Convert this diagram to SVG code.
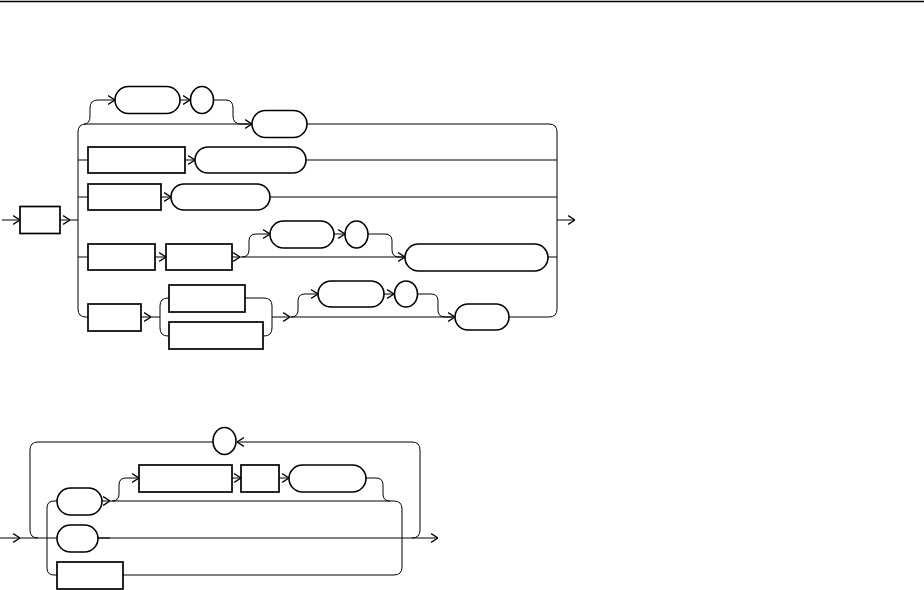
<svg xmlns="http://www.w3.org/2000/svg" width="924" height="590" viewBox="0 0 924 590">
<style>
.c{fill:none;stroke:#000;stroke-width:1}
.a{fill:none;stroke:#000;stroke-width:1;marker-end:url(#ah)}
.b{fill:#fff;stroke:#000;stroke-width:1.7}
.p{fill:#fff;stroke:#000;stroke-width:1.6}
</style>
<defs>
<marker id="ah" markerUnits="userSpaceOnUse" markerWidth="8" markerHeight="10" viewBox="0 0 6 8" refX="6" refY="4" orient="auto">
<path d="M0.5,0.5 L6,4 L0.5,7.5" fill="none" stroke="#000" stroke-width="1"/>
</marker>
</defs>
<line x1="0" y1="1.5" x2="924" y2="1.5" stroke="#000" stroke-width="1.3"/>
<g id="connectors">
<path class="a" d="M2,220 L20,220"/>
<path class="a" d="M60,220 L70,220"/>
<path class="c" d="M70,220 L78,220"/>
<path class="a" d="M78,220 L78,132 Q78,124 86,124 L252,124"/>
<path class="c" d="M78,220 L78,309 Q78,317 86,317 L88,317"/>
<path class="c" d="M78,160 L88,160 M78,197 L88,197 M78,257 L88,257"/>
<path class="a" d="M84,124 Q90,124 90,116 L90,108 Q90,100 98,100 L115,100"/>
<path class="a" d="M180,100 L190,100"/>
<path class="c" d="M214,100 L226,100 Q233,100 233,108 L233,116 Q233,124 241,124 L250,124"/>
<path class="c" d="M307,124 L549,124 Q557,124 557,132 L557,309 Q557,317 549,317 L509,317"/>
<path class="a" d="M185,160 L195,160"/>
<path class="c" d="M306,160 L557,160"/>
<path class="a" d="M161,197 L171,197"/>
<path class="c" d="M270,197 L557,197"/>
<path class="a" d="M557,220 L575,220"/>
<path class="a" d="M155,257 L166,257"/>
<path class="a" d="M232,257 L240,257"/>
<path class="a" d="M240,257 L405,257"/>
<path class="a" d="M242,257 Q249,257 249,250 L249,241 Q249,234 256,234 L270,234"/>
<path class="a" d="M334,234 L345,234"/>
<path class="c" d="M368,234 L385,234 Q392,234 392,241 L392,250 Q392,257 399,257 L404,257"/>
<path class="c" d="M548,257 L557,257"/>
<path class="a" d="M141,317 L151,317"/>
<path class="c" d="M151,317 L160,317"/>
<path class="c" d="M169,298 L168,298 Q160,298 160,306 L160,328 Q160,336 168,336 L169,336"/>
<path class="c" d="M245,298 L264,298 Q272,298 272,306 L272,328 Q272,336 264,336 L263,336"/>
<path class="a" d="M272,317 L290,317"/>
<path class="a" d="M290,317 L455,317"/>
<path class="a" d="M291,317 Q298,317 298,310 L298,301 Q298,294 305,294 L318,294"/>
<path class="a" d="M384,294 L394,294"/>
<path class="c" d="M418,294 L431,294 Q438,294 438,301 L438,310 Q438,317 445,317 L453,317"/>
<path class="a" d="M0,538 L20,538"/>
<path class="a" d="M20,538 L438,538"/>
<path class="a" d="M412,538 Q420,538 420,530 L420,450 Q420,442 412,442 L237,442"/>
<path class="c" d="M213,442 L38,442 Q30,442 30,450 L30,530 Q30,538 38,538"/>
<path class="c" d="M57,501 L54,501 Q47,501 47,508 L47,568 Q47,575 54,575 L57,575"/>
<path class="a" d="M102,501 L110,501"/>
<path class="c" d="M110,501 L394,501 Q402,501 402,509 L402,567 Q402,575 394,575 L123,575"/>
<path class="a" d="M112,501 Q119,501 119,494 L119,485 Q119,478 126,478 L139,478"/>
<path class="a" d="M232,478 L241,478"/>
<path class="a" d="M279,478 L289,478"/>
<path class="c" d="M366,478 L376,478 Q383,478 383,485 L383,494 Q383,501 390,501"/>
<path class="c" d="M98,538 L110,538"/>
</g>
<g id="n0"><rect class="b" x="20" y="206.5" width="40" height="27"/></g>
<g id="n1"><rect class="p" x="115" y="86.5" width="65" height="27" rx="13.5"/></g>
<g id="n2"><ellipse class="p" cx="202" cy="100" rx="11.5" ry="13.5"/></g>
<g id="n3"><rect class="p" x="252" y="110.5" width="55" height="27" rx="13.5"/></g>
<g id="n4"><rect class="b" x="88" y="147" width="97" height="26"/></g>
<g id="n5"><rect class="p" x="195" y="147" width="111" height="26" rx="13"/></g>
<g id="n6"><rect class="b" x="88" y="184" width="73" height="26"/></g>
<g id="n7"><rect class="p" x="171" y="184" width="99" height="26" rx="13"/></g>
<g id="n8"><rect class="b" x="88" y="244" width="67" height="26"/></g>
<g id="n9"><rect class="b" x="166" y="244" width="66" height="26"/></g>
<g id="n10"><rect class="p" x="270" y="221" width="64" height="27" rx="13.5"/></g>
<g id="n11"><ellipse class="p" cx="356.5" cy="234.5" rx="11.5" ry="13.5"/></g>
<g id="n12"><rect class="p" x="405" y="244" width="143" height="27" rx="13.5"/></g>
<g id="n13"><rect class="b" x="88" y="304" width="53" height="27"/></g>
<g id="n14"><rect class="b" x="169" y="285" width="76" height="27"/></g>
<g id="n15"><rect class="b" x="169" y="322" width="94" height="27"/></g>
<g id="n16"><rect class="p" x="318" y="281" width="66" height="26" rx="13"/></g>
<g id="n17"><ellipse class="p" cx="406" cy="294" rx="11.5" ry="13"/></g>
<g id="n18"><rect class="p" x="455" y="304" width="54" height="26" rx="13"/></g>
<g id="n19"><ellipse class="p" cx="224.5" cy="441" rx="11.5" ry="13.5"/></g>
<g id="n20"><rect class="p" x="57" y="488" width="45" height="27" rx="13.5"/></g>
<g id="n21"><rect class="b" x="139" y="465" width="93" height="27"/></g>
<g id="n22"><rect class="b" x="241" y="465" width="38" height="27"/></g>
<g id="n23"><rect class="p" x="289" y="465" width="77" height="27" rx="13.5"/></g>
<g id="n24"><rect class="p" x="57" y="525" width="41" height="27" rx="13.5"/></g>
<g id="n25"><rect class="b" x="57" y="562" width="66" height="27"/></g>
</svg>
